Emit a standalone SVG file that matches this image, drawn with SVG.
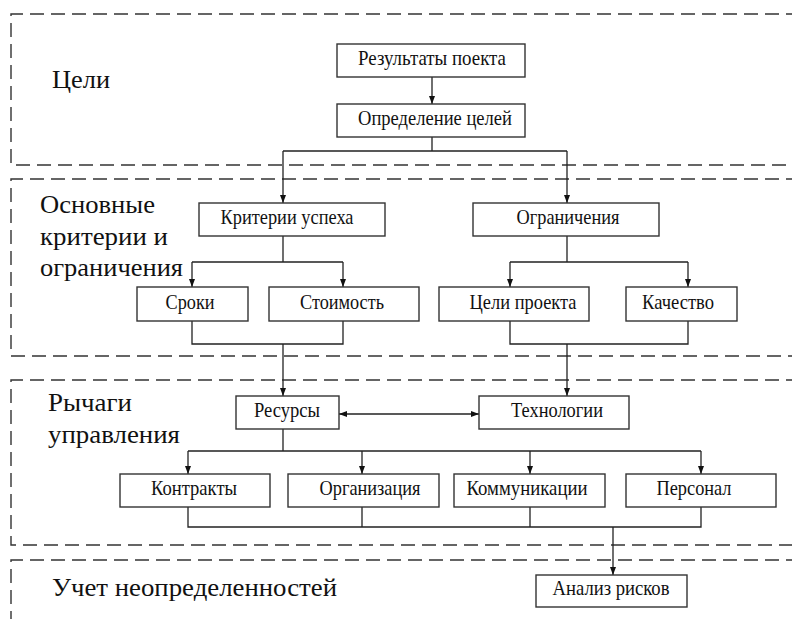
<svg xmlns="http://www.w3.org/2000/svg" width="792" height="619" viewBox="0 0 792 619">
  <defs>
    <marker id="arr" viewBox="0 0 8 8" refX="8" refY="4" markerWidth="8" markerHeight="8" markerUnits="userSpaceOnUse" orient="auto-start-reverse">
      <path d="M0,1 L8,4 L0,7 Z" fill="#111"/>
    </marker>
    <style>
      .zone { fill: none; stroke: #333; stroke-width: 1.4; stroke-dasharray: 14 7; }
      .box rect { fill: #fff; stroke: #333; stroke-width: 1.4; }
      .box text { font-family: "Liberation Serif", "Times New Roman", serif; font-size: 21px; fill: #111; text-anchor: middle; }
      .lbl { font-family: "Liberation Serif", "Times New Roman", serif; font-size: 26px; fill: #111; }
      .wire { fill: none; stroke: #222; stroke-width: 1.3; }
      .arrow { marker-end: url(#arr); }
    </style>
  </defs>
  <rect width="792" height="619" fill="#fff"/>

  <!-- zones (open on the right) -->
  <g id="zones">
    <path class="zone" d="M800,14 H11 V165 H800"/>
    <path class="zone" d="M800,179 H11 V356 H800"/>
    <path class="zone" d="M800,380 H11 V545 H800"/>
    <path class="zone" d="M800,560 H11 V625"/>
  </g>

  <!-- zone titles -->
  <g id="titles">
    <text class="lbl" x="52" y="88" textLength="58" lengthAdjust="spacingAndGlyphs">Цели</text>
    <text class="lbl" x="40" y="213" textLength="115" lengthAdjust="spacingAndGlyphs">Основные</text>
    <text class="lbl" x="40" y="245" textLength="128" lengthAdjust="spacingAndGlyphs">критерии и</text>
    <text class="lbl" x="40" y="276" textLength="143" lengthAdjust="spacingAndGlyphs">ограничения</text>
    <text class="lbl" x="48" y="411" textLength="84" lengthAdjust="spacingAndGlyphs">Рычаги</text>
    <text class="lbl" x="48" y="443" textLength="132" lengthAdjust="spacingAndGlyphs">управления</text>
    <text class="lbl" x="52" y="596" textLength="285" lengthAdjust="spacingAndGlyphs">Учет неопределенностей</text>
  </g>

  <!-- connectors -->
  <g id="connectors">
    <path class="wire arrow" d="M432,77 V104"/>
    <path class="wire" d="M432,137 V151 M283,151 H567"/>
    <path class="wire arrow" d="M283,151 V203"/>
    <path class="wire arrow" d="M567,151 V203"/>

    <path class="wire" d="M283,236 V262 M192,262 H343"/>
    <path class="wire arrow" d="M192,262 V287"/>
    <path class="wire arrow" d="M343,262 V287"/>
    <path class="wire" d="M567,236 V262 M510,262 H688"/>
    <path class="wire arrow" d="M510,262 V287"/>
    <path class="wire arrow" d="M688,262 V287"/>

    <path class="wire" d="M192,321 V344 H343 V321"/>
    <path class="wire arrow" d="M283,344 V396"/>
    <path class="wire" d="M510,321 V344 H688 V321"/>
    <path class="wire arrow" d="M567,344 V396"/>

    <path class="wire arrow" d="M339,414 H479" marker-start="url(#arr)"/>

    <path class="wire" d="M283,429 V451 M188,451 H701"/>
    <path class="wire arrow" d="M188,451 V474"/>
    <path class="wire arrow" d="M362,451 V474"/>
    <path class="wire arrow" d="M530,451 V474"/>
    <path class="wire arrow" d="M701,451 V474"/>

    <path class="wire" d="M188,507 V527 H701 V507 M362,507 V527 M530,507 V527"/>
    <path class="wire arrow" d="M613,527 V575"/>
  </g>

  <!-- nodes -->
  <g id="n-results" class="box"><rect x="337" y="44" width="188" height="33"/><text x="432" y="65" textLength="148" lengthAdjust="spacingAndGlyphs">Результаты поекта</text></g>
  <g id="n-goals" class="box"><rect x="337" y="104" width="188" height="33"/><text x="435" y="125" textLength="154" lengthAdjust="spacingAndGlyphs">Определение целей</text></g>
  <g id="n-criteria" class="box"><rect x="199" y="203" width="186" height="33"/><text x="287" y="224" textLength="133" lengthAdjust="spacingAndGlyphs">Критерии успеха</text></g>
  <g id="n-limits" class="box"><rect x="473" y="203" width="186" height="33"/><text x="568" y="224" textLength="103" lengthAdjust="spacingAndGlyphs">Ограничения</text></g>
  <g id="n-terms" class="box"><rect x="137" y="287" width="111" height="34"/><text x="190" y="309" textLength="49" lengthAdjust="spacingAndGlyphs">Сроки</text></g>
  <g id="n-cost" class="box"><rect x="269" y="287" width="150" height="34"/><text x="342" y="309" textLength="84" lengthAdjust="spacingAndGlyphs">Стоимость</text></g>
  <g id="n-targets" class="box"><rect x="439" y="287" width="150" height="34"/><text x="523" y="309" textLength="107" lengthAdjust="spacingAndGlyphs">Цели проекта</text></g>
  <g id="n-quality" class="box"><rect x="626" y="287" width="111" height="34"/><text x="678" y="309" textLength="72" lengthAdjust="spacingAndGlyphs">Качество</text></g>
  <g id="n-resources" class="box"><rect x="236" y="396" width="103" height="33"/><text x="287" y="417" textLength="66" lengthAdjust="spacingAndGlyphs">Ресурсы</text></g>
  <g id="n-tech" class="box"><rect x="479" y="396" width="150" height="33"/><text x="557" y="417" textLength="92" lengthAdjust="spacingAndGlyphs">Технологии</text></g>
  <g id="n-contracts" class="box"><rect x="120" y="474" width="150" height="33"/><text x="194" y="495" textLength="86" lengthAdjust="spacingAndGlyphs">Контракты</text></g>
  <g id="n-org" class="box"><rect x="288" y="474" width="151" height="33"/><text x="370" y="495" textLength="101" lengthAdjust="spacingAndGlyphs">Организация</text></g>
  <g id="n-comm" class="box"><rect x="454" y="474" width="151" height="33"/><text x="527" y="495" textLength="121" lengthAdjust="spacingAndGlyphs">Коммуникации</text></g>
  <g id="n-staff" class="box"><rect x="626" y="474" width="150" height="33"/><text x="694" y="495" textLength="75" lengthAdjust="spacingAndGlyphs">Персонал</text></g>
  <g id="n-risk" class="box"><rect x="536" y="575" width="151" height="32"/><text x="611" y="595" textLength="117" lengthAdjust="spacingAndGlyphs">Анализ рисков</text></g>
</svg>
